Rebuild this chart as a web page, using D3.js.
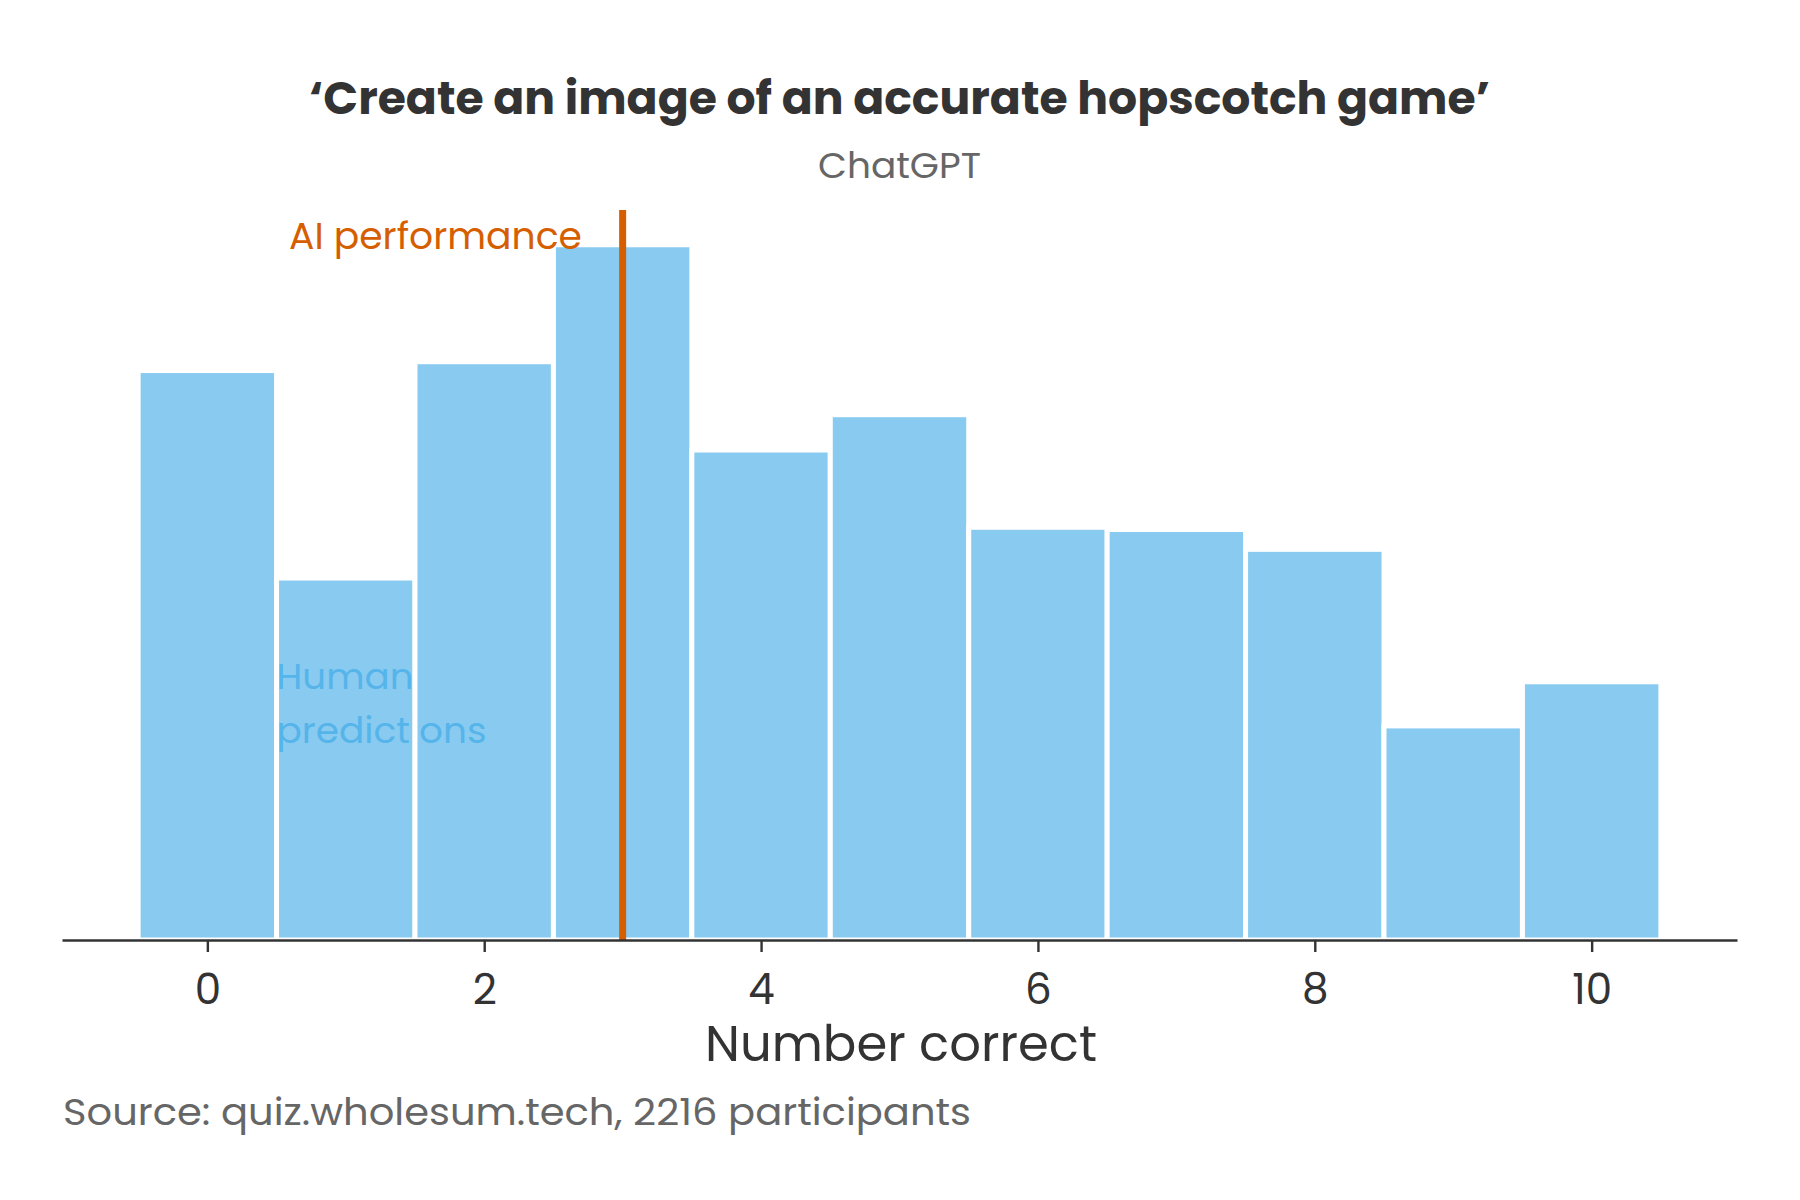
<!DOCTYPE html>
<html lang="en">
<head>
    <meta charset="UTF-8">
    <title>Create an image of an accurate hopscotch game</title>
    <script src="https://d3js.org/d3.v7.min.js"></script>
    <style>
        body {
            margin: 0;
            background: #ffffff;
        }
        svg text {
            font-family: Poppins, Lato, "Open Sans", sans-serif;
        }
        .axis path, .axis line {
            stroke: #333333;
            stroke-width: 2.4;
        }
        .axis text {
            fill: #333333;
            font-size: 42px;
        }
    </style>
</head>
<body>

<svg id="chart" width="1800" height="1200"></svg>

<script>
    // data: number of participants per score
    const scores = [0, 1, 2, 3, 4, 5, 6, 7, 8, 9, 10];
    const counts = [258, 164, 262, 315, 222, 238, 187, 186, 177, 97, 117];
    const tickValues = [0, 2, 4, 6, 8, 10];
    const aiScore = 3;

    const svg = d3.select("#chart");

    const x = d3.scaleLinear().domain([-1.05, 11.05]).range([62, 1737]);
    const y = d3.scaleLinear().domain([0, d3.max(counts) * 1.05]).range([940, 210]);

    // stretch a text to the width it has in the reference
    function fit(sel, w) {
        sel.attr("textLength", w).attr("lengthAdjust", "spacingAndGlyphs");
        return sel;
    }

    // label under the bars (bars are see-through)
    fit(svg.append("text")
        .attr("x", x(0.5)).attr("y", 689)
        .attr("font-size", 36).attr("fill", "#56b4e9")
        .text("Human"), 137);
    fit(svg.append("text")
        .attr("x", x(0.5)).attr("y", 743)
        .attr("font-size", 36).attr("fill", "#56b4e9")
        .text("predictions"), 210);

    // histogram bars
    svg.append("g")
        .selectAll("rect")
        .data(scores)
        .join("rect")
        .attr("x", d => x(d - 0.5))
        .attr("width", d => x(d + 0.5) - x(d - 0.5))
        .attr("y", (d, i) => y(counts[i]))
        .attr("height", (d, i) => y(0) - y(counts[i]))
        .attr("fill", "#56b4e9")
        .attr("fill-opacity", 0.7)
        .attr("stroke", "#ffffff")
        .attr("stroke-width", 5);

    // AI performance line
    svg.append("line")
        .attr("x1", x(aiScore)).attr("x2", x(aiScore))
        .attr("y1", y.range()[1]).attr("y2", y(0))
        .attr("stroke", "#d55e00")
        .attr("stroke-width", 7);

    fit(svg.append("text")
        .attr("x", 289).attr("y", 249)
        .attr("font-size", 37).attr("fill", "#d55e00")
        .text("AI performance"), 293);

    // x axis
    svg.append("g")
        .attr("class", "axis")
        .attr("transform", "translate(0," + y(0) + ")")
        .call(d3.axisBottom(x)
            .tickValues(tickValues)
            .tickFormat(d3.format("d"))
            .tickSize(12)
            .tickSizeOuter(0)
            .tickPadding(22))
        .call(g => g.selectAll("text").attr("font-family", null));

    fit(svg.append("text")
        .attr("x", 705).attr("y", 1061)
        .attr("font-size", 50).attr("fill", "#333333")
        .text("Number correct"), 392);

    // titles
    fit(svg.append("text")
        .attr("x", 309).attr("y", 114)
        .attr("font-size", 45).attr("font-weight", 700).attr("fill", "#333333")
        .text("\u2018Create an image of an accurate hopscotch game\u2019"), 1181);

    fit(svg.append("text")
        .attr("x", 818).attr("y", 178)
        .attr("font-size", 35).attr("fill", "#666666")
        .text("ChatGPT"), 163);

    // source
    fit(svg.append("text")
        .attr("x", 63).attr("y", 1125)
        .attr("font-size", 38).attr("fill", "#666666")
        .text("Source: quiz.wholesum.tech, 2216 participants"), 908);
</script>

</body>
</html>
